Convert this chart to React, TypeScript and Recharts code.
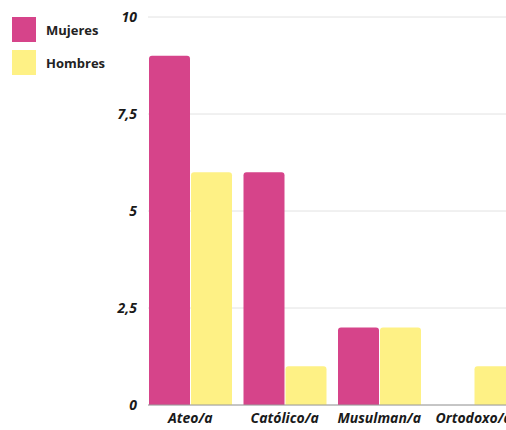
import { Bar, BarChart, CartesianGrid, XAxis, YAxis } from "recharts";

const religions = ["Ateo/a", "Católico/a", "Musulman/a", "Ortodoxo/a"];
const mujeres = [9, 6, 2, 0];
const hombres = [6, 1, 2, 1];
const yTicks = [0, 2.5, 5, 7.5, 10];

const data = religions.map((name, i) => ({ name, mujeres: mujeres[i], hombres: hombres[i] }));

const PINK = "#D6448A";
const YELLOW = "#FEF185";
const FONT = "'Open Sans', 'Noto Sans', sans-serif";

const legendItems = [
  { label: "Mujeres", color: PINK },
  { label: "Hombres", color: YELLOW },
];

// legend sits in the empty space left of the axis, so it's plain html on top
function SideLegend() {
  return (
    <div style={{ position: "absolute", left: 12, top: 13, fontFamily: FONT }}>
      {legendItems.map((it) => (
        <div key={it.label} style={{ display: "flex", alignItems: "center", height: 33 }}>
          <div style={{ width: 24, height: 25, background: it.color, marginRight: 10 }} />
          <span style={{ fontSize: 13, fontWeight: 700, color: "#222" }}>{it.label}</span>
        </div>
      ))}
    </div>
  );
}

export default function App() {
  const tickStyle = { fontFamily: FONT, fontSize: 14, fontWeight: 700, fontStyle: "italic", fill: "#1a1a1a" };
  return (
    <div style={{ position: "absolute", left: 0, top: 0, width: 506, height: 430, overflow: "hidden", background: "#fff" }}>
      <BarChart
        width={521}
        height={430}
        data={data}
        margin={{ top: 17, right: 0, bottom: 0, left: 0 }}
        barCategoryGap={6}
        barGap={1}
      >
        <CartesianGrid vertical={false} stroke="#e2e2e2" />
        <XAxis
          dataKey="name"
          height={25}
          tickLine={false}
          axisLine={{ stroke: "#9a9a9a" }}
          padding={{ left: -5, right: 0 }}
          tick={tickStyle}
          interval={0}
        />
        <YAxis
          width={148}
          domain={[0, 10]}
          ticks={yTicks}
          tickLine={false}
          axisLine={false}
          tickMargin={5}
          tick={tickStyle}
          tickFormatter={(v: number) => String(v).replace(".", ",")}
        />
        <Bar dataKey="mujeres" name="Mujeres" fill={PINK} radius={[3, 3, 0, 0]} isAnimationActive={false} />
        <Bar dataKey="hombres" name="Hombres" fill={YELLOW} radius={[3, 3, 0, 0]} isAnimationActive={false} />
      </BarChart>
      <SideLegend />
    </div>
  );
}
